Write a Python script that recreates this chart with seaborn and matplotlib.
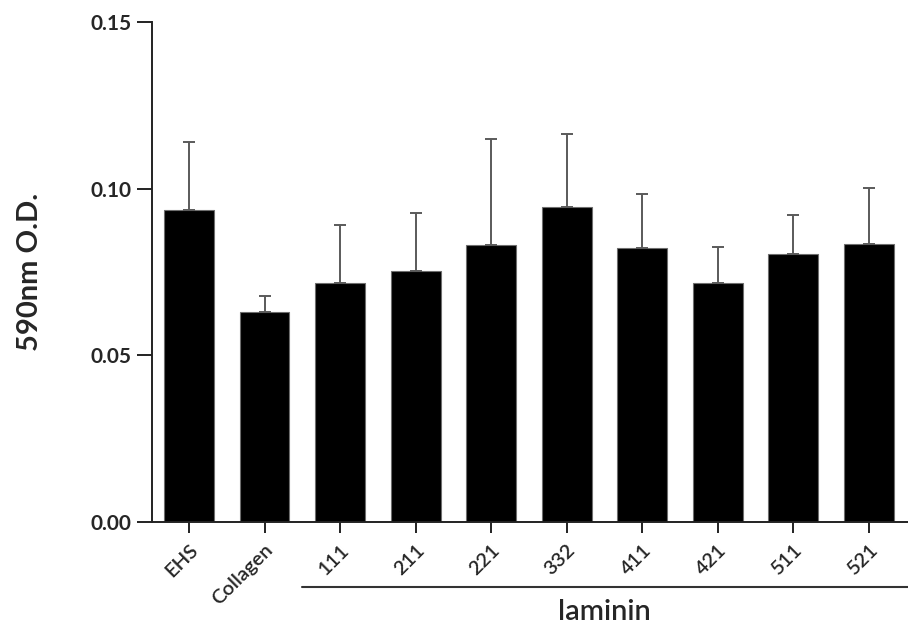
import numpy as np
import pandas as pd
import seaborn as sns
from matplotlib import pyplot as plt

# values
groups = ['EHS', 'Collagen', '111', '211', '221', '332', '411', '421', '511', '521']
od_mean = [0.0936, 0.0631, 0.0716, 0.0752, 0.0830, 0.0944, 0.0822, 0.0717, 0.0803, 0.0835]
od_err = [0.0204, 0.0047, 0.0176, 0.0176, 0.0319, 0.0220, 0.0163, 0.0108, 0.0117, 0.0166]
y_ticks = [0.00, 0.05, 0.10, 0.15]
laminin_groups = ['111', '211', '221', '332', '411', '421', '511', '521']

sns.set_theme(style='ticks')
plt.rcParams['font.family'] = ['Lato', 'DejaVu Sans']

df = pd.DataFrame({'group': groups, 'od': od_mean})

fig = plt.figure(figsize=(9.08, 6.26), dpi=100)
ax = fig.add_axes([0.1674, 0.1661, 0.8326, 0.7988])

sns.barplot(data=df, x='group', y='od', color='black', width=0.66,
            edgecolor='#6e6e6e', linewidth=0.8, saturation=1, errorbar=None, ax=ax)

xpos = np.arange(len(groups))
ax.errorbar(xpos, od_mean, yerr=[np.zeros(len(od_err)), od_err], fmt='none',
            ecolor='#5a5a5a', elinewidth=1.4, capsize=4.6, capthick=1.4, zorder=1)

ax.set_ylim(0, 0.15)
ax.set_xlim(-0.49, len(groups) - 0.48)
ax.set_yticks(y_ticks)
ax.set_yticklabels(['{:.2f}'.format(t) for t in y_ticks], fontsize=15, fontweight='bold')
ax.set_xticks(xpos)
ax.set_xticklabels(groups, rotation=45, ha='right', rotation_mode='anchor',
                   fontsize=14.5, fontweight='semibold')

sns.despine(ax=ax)
for s in ['left', 'bottom']:
    ax.spines[s].set_linewidth(1.4)
    ax.spines[s].set_color('#222222')
ax.tick_params(axis='y', length=11, width=1.4, color='#222222', pad=4)
ax.tick_params(axis='x', length=8, width=1.4, color='#222222', pad=6)

ax.set_xlabel('')
ax.set_ylabel('590nm O.D.', fontsize=21, fontweight='bold', labelpad=34)

# bracket line under the laminin isoforms
i0 = groups.index(laminin_groups[0])
i1 = groups.index(laminin_groups[-1])
trans = ax.get_xaxis_transform()
ax.plot([i0 - 0.5, i1 + 0.55], [-0.13, -0.13], color='#333333', lw=1.5,
        transform=trans, clip_on=False)
ax.text((i0 + i1) / 2, -0.18, 'laminin', transform=trans, ha='center', va='center',
        fontsize=21, fontweight='semibold')

plt.savefig('out.png', dpi=100)
